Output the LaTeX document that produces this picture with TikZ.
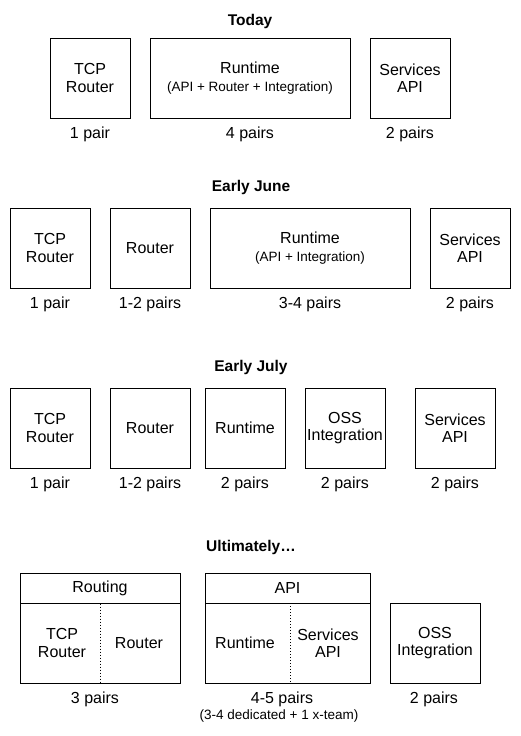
\documentclass[tikz,border=0pt]{standalone}
\usepackage{fontspec}
\setmainfont{Liberation Sans}
\usetikzlibrary{positioning}
\newcommand{\sub}[1]{{\fontsize{13.5}{15}\selectfont #1}}

\tikzset{
  box/.style={draw, line width=1pt, minimum width=80pt, minimum height=80pt,
    inner sep=0pt, align=center, font=\fontsize{16}{17.5}\selectfont},
  wide/.style={box, minimum width=200pt},
  head/.style={box, minimum height=30pt},
  txt/.style={inner sep=0pt, align=center, font=\fontsize{16}{17.5}\selectfont},
  pairs/.style={txt, anchor=base},
  title/.style={inner sep=0pt, anchor=base, font=\fontsize{15.5}{17}\selectfont\bfseries},
  sep/.style={line width=1pt, dash pattern=on 1pt off 2pt}
}

\begin{document}
\begin{tikzpicture}[x=1pt,y=-1pt]
  \useasboundingbox (0,0) rectangle (521,736);

  % today
  \node[title] (tdTitle) at (250,25) {Today};
  \node[box]  (tdTcp) at ( 90,78) {TCP\\Router};
  \node[wide] (tdRun) at (250,78) {Runtime\\\sub{(API + Router + Integration)}};
  \node[box]  (tdSvc) at (410,78) {Services\\API};
  \node[pairs] at ( 90,138) {1 pair};
  \node[pairs] at (250,138) {4 pairs};
  \node[pairs] at (410,138) {2 pairs};

  % early june
  \node[title] (jnTitle) at (251,191) {Early June};
  \node[box]  (jnTcp) at ( 50,248) {TCP\\Router};
  \node[box]  (jnRtr) at (150,248) {Router};
  \node[wide] (jnRun) at (310,248) {Runtime\\\sub{(API + Integration)}};
  \node[box]  (jnSvc) at (470,248) {Services\\API};
  \node[pairs] at ( 50,308) {1 pair};
  \node[pairs] at (150,308) {1-2 pairs};
  \node[pairs] at (310,308) {3-4 pairs};
  \node[pairs] at (470,308) {2 pairs};

  % early july
  \node[title] (jlTitle) at (251,371) {Early July};
  \node[box] (jlTcp) at ( 50,428) {TCP\\Router};
  \node[box] (jlRtr) at (150,428) {Router};
  \node[box] (jlRun) at (245,428) {Runtime};
  \node[box] (jlOss) at (345,428) {OSS\\Integration};
  \node[box] (jlSvc) at (455,428) {Services\\API};
  \node[pairs] at ( 50,488) {1 pair};
  \node[pairs] at (150,488) {1-2 pairs};
  \node[pairs] at (245,488) {2 pairs};
  \node[pairs] at (345,488) {2 pairs};
  \node[pairs] at (455,488) {2 pairs};

  % ultimately
  \node[title] (ulTitle) at (251,551) {Ultimately\ldots};
  \node[head, minimum width=160pt] (rtHead) at (100,588) {Routing};
  \node[box, minimum width=160pt]  (rtBody) at (100,643) {};
  \node[txt] (rtTcp) at ( 62,643) {TCP\\Router};
  \node[txt] (rtRtr) at (139,643) {Router};
  \draw[sep] (rtHead.south) -- (rtBody.south);

  \node[head, minimum width=165pt] (apHead) at (287.5,588) {API};
  \node[box, minimum width=165pt]  (apBody) at (287.5,643) {};
  \node[txt] (apRun) at (245,643) {Runtime};
  \node[txt] (apSvc) at (328,643) {Services\\API};
  \draw[sep] (290,603) -- (290,683);

  \node[box, minimum width=90pt] (ulOss) at (435,643) {OSS\\Integration};

  \node[pairs] at ( 95,703) {3 pairs};
  \node[pairs] (apPairs) at (282,703) {4-5 pairs};
  \node[txt, anchor=base] at (279,719) {\sub{(3-4 dedicated + 1 x-team)}};
  \node[pairs] at (434,703) {2 pairs};
\end{tikzpicture}
\end{document}
